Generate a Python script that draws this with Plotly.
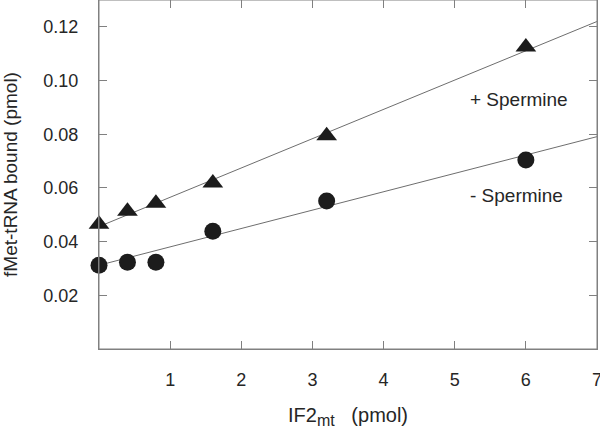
import plotly.graph_objects as go

# IF2mt added (pmol)
if2_pmol = [0, 0.4, 0.8, 1.6, 3.2, 6.0]

# fMet-tRNA bound (pmol)
plus_spermine = [0.0465, 0.0513, 0.0543, 0.0618, 0.0794, 0.1125]
minus_spermine = [0.0312, 0.0323, 0.0323, 0.0439, 0.0551, 0.0704]

# fitted lines, read at the ends of the x range
fit_x = [0, 7]
plus_fit = [0.0456, 0.1220]
minus_fit = [0.0312, 0.0791]

x_ticks = [1, 2, 3, 4, 5, 6, 7]
y_ticks = [0.02, 0.04, 0.06, 0.08, 0.10, 0.12]
y_tick_text = ["0.02", "0.04", "0.06", "0.08", "0.10", "0.12"]

FONT = "Liberation Sans, Arial, sans-serif"
TEXT = "#262626"
AXIS = "#808080"
MARK = "#1c1c1c"

fig = go.Figure()

# fit lines
for y in (plus_fit, minus_fit):
    fig.add_trace(
        go.Scatter(
            x=fit_x, y=y, mode="lines",
            line=dict(color="#6e6e6e", width=1),
            showlegend=False, hoverinfo="skip",
        )
    )

fig.add_trace(
    go.Scatter(
        x=if2_pmol, y=plus_spermine, mode="markers", name="+ Spermine",
        marker=dict(symbol="triangle-up", size=18, color=MARK),
        showlegend=False, cliponaxis=False,
    )
)
fig.add_trace(
    go.Scatter(
        x=if2_pmol, y=minus_spermine, mode="markers", name="- Spermine",
        marker=dict(symbol="circle", size=17, color=MARK),
        showlegend=False, cliponaxis=False,
    )
)

fig.add_annotation(x=5.18, y=0.0928, text="+ Spermine", showarrow=False,
                   xanchor="left", font=dict(size=19, color=TEXT, family=FONT))
fig.add_annotation(x=5.18, y=0.0573, text="- Spermine", showarrow=False,
                   xanchor="left", font=dict(size=19, color=TEXT, family=FONT))

# box around the plot area
fig.add_shape(type="rect", xref="x domain", yref="y domain",
              x0=0, x1=1, y0=0, y1=1, line=dict(color=AXIS, width=1))

fig.update_xaxes(
    range=[0, 7], tickvals=x_ticks,
    showline=True, linecolor=AXIS, linewidth=1, mirror="ticks",
    ticks="inside", ticklen=8, tickcolor=AXIS, tickwidth=1,
    showgrid=False, zeroline=False,
    automargin=False, ticklabeloverflow="allow",
    ticklabelstandoff=14,
    tickfont=dict(size=18, color=TEXT, family=FONT),
    title=dict(text="IF2<sub><span style='font-size:16px'>mt</span></sub>&nbsp;&nbsp;&nbsp;(pmol)",
               standoff=20, font=dict(size=20, color=TEXT, family=FONT)),
)
fig.update_yaxes(
    range=[0, 0.13], tickvals=y_ticks, ticktext=y_tick_text,
    showline=True, linecolor=AXIS, linewidth=1, mirror="ticks",
    ticks="inside", ticklen=8, tickcolor=AXIS, tickwidth=1,
    showgrid=False, zeroline=False,
    automargin=False,
    ticklabelstandoff=16,
    tickfont=dict(size=18, color=TEXT, family=FONT),
    title=dict(text="fMet-tRNA bound (pmol)", standoff=20,
               font=dict(size=19, color=TEXT, family=FONT)),
)

fig.update_layout(
    width=600, height=429,
    plot_bgcolor="white", paper_bgcolor="white",
    margin=dict(l=99, r=3, t=0, b=80),
    showlegend=False,
)

# the page's default 8px body margin would shift the whole figure
fig.write_html("out.html", config={"displayModeBar": False},
               post_script="document.body.style.margin='0';")
